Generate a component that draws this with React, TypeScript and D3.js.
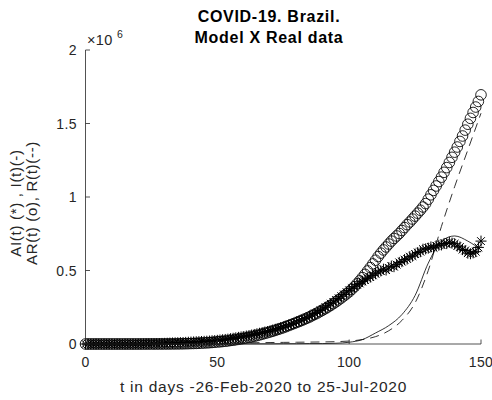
import React from 'react';
import * as d3 from 'd3';

// days since 26-Feb-2020
const days = d3.range(0, 151);
const modelDays = d3.range(0, 151, 5);

// AI(t) active infected, real data (thousands), one value per day
const activeInfected = [
  0, 0, 0, 0, 0, 0, 0, 0, 0, 0,
  0, 0, 0, 0, 0.1, 0.1, 0.2, 0.2, 0.3, 0.4,
  0.6, 0.9, 1.1, 1.5, 1.9, 2.2, 2.4, 2.8, 3.3, 3.9,
  4.5, 5.3, 6.2, 7.0, 7.8, 8.6, 9.3, 10, 11, 12,
  13, 14, 15, 16, 17, 18, 19, 20, 22, 23,
  25, 27, 29, 31, 33, 36, 39, 42, 45, 48,
  50, 54, 57, 61, 65, 69, 73, 77, 81, 85,
  90, 95, 100, 105, 111, 117, 122, 128, 134, 140,
  150, 158, 163, 173, 179, 190, 197, 208, 216, 228,
  237, 250, 260, 274, 285, 299, 310, 325, 337, 353,
  365, 379, 389, 403, 412, 426, 435, 447, 455, 467,
  478, 490, 497, 509, 503, 518, 530, 526, 540, 555,
  560, 574, 578, 594, 598, 612, 622, 628, 645, 647,
  652, 660, 655, 668, 672, 674, 684, 683, 692, 686,
  682, 666, 660, 642, 636, 618, 614, 620, 628, 657,
  700,
];

// AR(t) accumulated recovered, real data (thousands)
const accRecovered = [
  0, 0, 0, 0, 0, 0, 0, 0, 0, 0,
  0, 0, 0, 0, 0, 0, 0, 0, 0, 0,
  0, 0, 0, 0.1, 0.1, 0.1, 0.1, 0.1, 0.1, 0.2,
  0.2, 0.3, 0.5, 0.6, 0.8, 1, 1.2, 1.5, 2, 2.5,
  3, 3.5, 4, 5, 6, 7, 8, 9, 10.5, 12,
  14, 15, 17, 19, 21, 24, 26, 29, 32, 35,
  38, 42, 45, 49, 53, 57, 62, 67, 72, 77,
  82, 87, 93, 99, 105, 111, 118, 125, 132, 139,
  146, 153, 160, 168, 176, 184, 193, 202, 211, 221,
  231, 241, 252, 263, 275, 287, 300, 313, 327, 341,
  355, 372, 390, 410, 430, 452, 474, 497, 520, 545,
  570, 595, 618, 640, 660, 680, 700, 718, 735, 752,
  772, 792, 812, 830, 850, 870, 890, 910, 932, 955,
  985, 1015, 1045, 1075, 1105, 1135, 1168, 1200, 1235, 1270,
  1305, 1340, 1378, 1415, 1455, 1495, 1535, 1575, 1612, 1650,
  1695,
];

// model curves (millions), every 5 days
const modelI = [
  0, 0, 0, 0, 0, 0, 0, 0, 0, 0,
  0, 0, 0.001, 0.001, 0.001, 0.002, 0.002, 0.003, 0.003, 0.005,
  0.012, 0.03, 0.075, 0.125, 0.2, 0.33, 0.55, 0.7, 0.735, 0.7, 0.64,
];
const modelR = [
  0, 0, 0, 0, 0, 0, 0, 0, 0.001, 0.002,
  0.004, 0.006, 0.008, 0.009, 0.01, 0.011, 0.012, 0.013, 0.014, 0.016,
  0.02, 0.03, 0.05, 0.09, 0.16, 0.28, 0.5, 0.8, 1.07, 1.32, 1.57,
];

const xTicks = [0, 50, 100, 150];
const yTicks = [0, 0.5e6, 1e6, 1.5e6, 2e6];
const yTickLabels = ['0', '0.5', '1', '1.5', '2'];

const font = '"Liberation Sans", Arial, Helvetica, sans-serif';
const ink = '#262626';

export default function App() {
  const width = 492;
  const height = 400;

  const x = d3.scaleLinear().domain([0, 150]).range([85.5, 481]);
  const y = d3.scaleLinear().domain([0, 2e6]).range([344, 50]);

  const modelLine = d3.line<number>()
    .x((d, i) => x(modelDays[i]))
    .y(d => y(d * 1e6))
    .curve(d3.curveMonotoneX);

  const star = 'M-5.5,0L5.5,0M0,-5.5L0,5.5M-3.9,-3.9L3.9,3.9M-3.9,3.9L3.9,-3.9';
  const tickLen = 4.5;

  return (
    <svg width={width} height={height} style={{ position: 'absolute', left: 0, top: 0, background: '#fff' }}
      fontFamily={font}>
      <rect width={width} height={height} fill="#fff" />

      {/* title */}
      <text x={269} y={21.5} textAnchor="middle" fontSize={16} fontWeight="bold" letterSpacing={0.7} fill="#000">
        COVID-19. Brazil.
      </text>
      <text x={269} y={42.5} textAnchor="middle" fontSize={16} fontWeight="bold" letterSpacing={0.7} fill="#000">
        Model X Real data
      </text>

      {/* real data markers */}
      <g stroke="#000" fill="none">
        {activeInfected.map((v, i) => (
          <path key={'s' + i} d={star} strokeWidth={1} transform={`translate(${x(days[i])},${y(v * 1e3)})`} />
        ))}
        {accRecovered.map((v, i) => (
          <circle key={'c' + i} cx={x(days[i])} cy={y(v * 1e3)} r={5.3} strokeWidth={0.85} />
        ))}
      </g>

      {/* model curves */}
      <path d={modelLine(modelI) || ''} fill="none" stroke="#000" strokeWidth={0.8} />
      <path d={modelLine(modelR) || ''} fill="none" stroke="#000" strokeWidth={0.8} strokeDasharray="9,6" />

      {/* axes */}
      <g stroke={ink} strokeWidth={0.8}>
        <line x1={x(0)} x2={x(0)} y1={y(2e6)} y2={y(0)} />
        <line x1={x(0)} x2={x(150)} y1={y(0)} y2={y(0)} />
        {xTicks.map(t => (
          <line key={'xt' + t} x1={x(t)} x2={x(t)} y1={y(0)} y2={y(0) - tickLen} />
        ))}
        {yTicks.map(t => (
          <line key={'yt' + t} x1={x(0)} x2={x(0) + tickLen} y1={y(t)} y2={y(t)} />
        ))}
      </g>
      <g fill={ink} fontSize={14} letterSpacing={0.4}>
        {xTicks.map(t => (
          <text key={'xl' + t} x={x(t)} y={367} textAnchor="middle">{t}</text>
        ))}
        {yTicks.map((t, i) => (
          <text key={'yl' + t} x={77} y={y(t) + 5} textAnchor="end">{yTickLabels[i]}</text>
        ))}
        <text x={87} y={45} fontSize={14.5}>×10</text>
        <text x={117} y={38} fontSize={10.5}>6</text>
      </g>

      {/* axis labels */}
      <text x={263.5} y={392} textAnchor="middle" fontSize={15.5} letterSpacing={0.75} fill={ink}>
        t in days -26-Feb-2020 to 25-Jul-2020
      </text>
      <g transform="translate(0,203) rotate(-90)" fill={ink} fontSize={15} letterSpacing={0.7}>
        <text x={0} y={21} textAnchor="middle">AI(t) (*) , I(t)(-)</text>
        <text x={0} y={36.5} textAnchor="middle">AR(t) (o), R(t)(--)</text>
      </g>
    </svg>
  );
}
